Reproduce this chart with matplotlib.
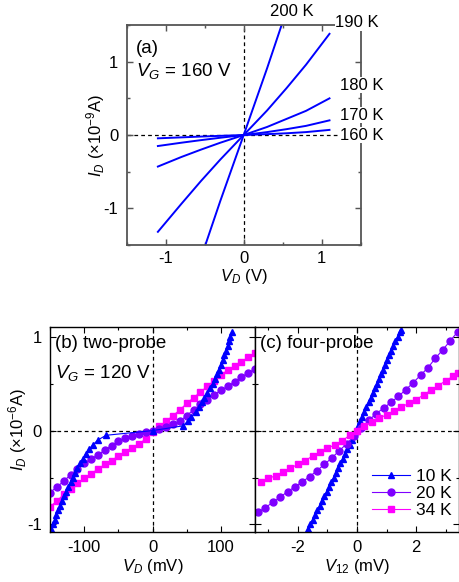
import numpy as np
import matplotlib
matplotlib.use("Agg")
import matplotlib.pyplot as plt
from matplotlib.ticker import MultipleLocator

plt.rcParams['font.family'] = ['Liberation Sans', 'DejaVu Sans']
plt.rcParams['mathtext.fontset'] = 'custom'
plt.rcParams['mathtext.rm'] = 'Liberation Sans'
plt.rcParams['mathtext.it'] = 'Liberation Sans:italic'
plt.rcParams['axes.unicode_minus'] = False
plt.rcParams['font.size'] = 12

# ---- panel (a): I-V at V_G = 160 V, several temperatures (x 1e-9 A)
va_temps = ["160 K", "170 K", "180 K", "190 K", "200 K"]
va_v = [-1.1, -0.8, -0.55, -0.3, 0.0, 0.3, 0.55, 0.8, 1.1]
ia_160 = [-0.045, -0.032, -0.021, -0.011, 0.0, 0.012, 0.024, 0.040, 0.07]
ia_170 = [-0.15, -0.105, -0.07, -0.037, 0.0, 0.04, 0.08, 0.125, 0.20]
ia_180 = [-0.43, -0.30, -0.20, -0.105, 0.0, 0.11, 0.22, 0.33, 0.50]
ia_190 = [-1.32, -0.94, -0.63, -0.335, 0.0, 0.335, 0.64, 0.96, 1.38]
va_200 = [-0.6, -0.3, 0.0, 0.3, 0.6]
ia_200 = [-1.84, -0.90, 0.0, 0.91, 1.86]

# ---- panel (b): two-probe, V_G = 120 V (x 1e-6 A)
vb_10k = [-148, -146, -143, -141, -138, -135, -132, -129, -126, -123, -120,
          -117, -114, -110, -106, -102, -98, -93, -87, -80, -68, 0,
          44, 52, 57, 63, 68, 72, 76, 80, 84, 88, 91, 94, 97, 100, 103,
          105, 108, 110, 112, 114, 116]
ib_10k = [-1.05, -1.0, -0.95, -0.9, -0.85, -0.8, -0.75, -0.7, -0.65, -0.6,
          -0.55, -0.5, -0.45, -0.4, -0.35, -0.3, -0.25, -0.2, -0.15, -0.1,
          -0.05, 0.0, 0.05, 0.1, 0.15, 0.2, 0.25, 0.3, 0.35, 0.4, 0.45, 0.5,
          0.55, 0.6, 0.65, 0.7, 0.75, 0.8, 0.85, 0.9, 0.95, 1.0, 1.05]
vb_sweep = [-150, -140, -130, -120, -110, -100, -90, -80, -70, -60, -50, -40,
            -30, -20, -10, 0, 10, 20, 30, 40, 50, 60, 70, 80, 90, 100, 110,
            120, 130, 140, 150]
ib_20k = [-0.66, -0.60, -0.54, -0.47, -0.41, -0.35, -0.30, -0.26, -0.21,
          -0.16, -0.11, -0.08, -0.055, -0.035, -0.017, 0.0, 0.02, 0.04,
          0.065, 0.10, 0.16, 0.22, 0.28, 0.33, 0.38, 0.43, 0.47, 0.52, 0.57,
          0.615, 0.656]
ib_34k = [-0.81, -0.75, -0.68, -0.62, -0.56, -0.51, -0.46, -0.41, -0.36,
          -0.32, -0.27, -0.23, -0.18, -0.14, -0.09, -0.01, 0.05, 0.10, 0.16,
          0.22, 0.29, 0.35, 0.41, 0.47, 0.53, 0.59, 0.645, 0.69, 0.735, 0.78,
          0.83]

# ---- panel (c): four-probe (x 1e-6 A)
ic_10k = [-1.05, -1.0, -0.95, -0.9, -0.85, -0.8, -0.75, -0.7, -0.65, -0.6,
          -0.55, -0.5, -0.45, -0.4, -0.35, -0.3, -0.25, -0.2, -0.15, -0.1,
          -0.05, 0.0, 0.05, 0.1, 0.15, 0.2, 0.25, 0.3, 0.35, 0.4, 0.45, 0.5,
          0.55, 0.6, 0.65, 0.7, 0.75, 0.8, 0.85, 0.9, 0.95, 1.0, 1.05, 1.07]
vc_10k = [-1.66, -1.58, -1.50, -1.42, -1.34, -1.26, -1.18, -1.10, -1.02,
          -0.94, -0.87, -0.79, -0.71, -0.63, -0.56, -0.48, -0.40, -0.33,
          -0.25, -0.18, -0.11, -0.03, 0.04, 0.11, 0.18, 0.25, 0.32, 0.39,
          0.46, 0.53, 0.60, 0.67, 0.74, 0.81, 0.88, 0.95, 1.02, 1.09, 1.16,
          1.23, 1.30, 1.38, 1.45, 1.50]
vc_20k = [-3.35, -3.1, -2.85, -2.6, -2.35, -2.1, -1.85, -1.6, -1.35, -1.1,
          -0.85, -0.6, -0.35, -0.1, 0.15, 0.4, 0.65, 0.9, 1.15, 1.4, 1.65,
          1.9, 2.15, 2.4, 2.65, 2.9, 3.15, 3.4]
ic_20k = [-0.87, -0.82, -0.765, -0.71, -0.65, -0.60, -0.545, -0.49, -0.425,
          -0.36, -0.29, -0.215, -0.14, -0.06, 0.03, 0.11, 0.18, 0.24, 0.30,
          0.365, 0.435, 0.51, 0.59, 0.67, 0.77, 0.86, 0.955, 1.05]
vc_34k = [-3.25, -3.0, -2.75, -2.5, -2.25, -2.0, -1.75, -1.5, -1.25, -1.0,
          -0.75, -0.5, -0.25, 0.0, 0.25, 0.5, 0.75, 1.0, 1.25, 1.5, 1.75, 2.0,
          2.25, 2.5, 2.75, 3.0, 3.25, 3.4]
ic_34k = [-0.55, -0.51, -0.48, -0.44, -0.40, -0.36, -0.32, -0.27, -0.23,
          -0.19, -0.15, -0.11, -0.05, 0.0, 0.05, 0.09, 0.13, 0.17, 0.21, 0.25,
          0.29, 0.33, 0.38, 0.43, 0.48, 0.53, 0.58, 0.61]

legend_labels = ["10 K", "20 K", "34 K"]
c10, c20, c34 = "#0000ff", "#7f00ff", "#ff00ff"
blue = "#0000ff"


def style_ticks(ax, spine_color, lw):
    ax.tick_params(which='both', direction='in', top=True, right=True,
                   color=spine_color, width=lw * 0.8)
    ax.tick_params(which='major', length=4, pad=6)
    ax.tick_params(which='minor', length=2.5)
    for s in ax.spines.values():
        s.set_color(spine_color)
        s.set_linewidth(lw)


def zero_lines(ax):
    ax.axhline(0, color='black', ls=(0, (3, 2.5)), lw=0.9, zorder=1)
    ax.axvline(0, color='black', ls=(0, (3, 2.5)), lw=0.9, zorder=1)


fig = plt.figure(figsize=(4.6, 5.82), dpi=100)

# ---------------- (a)
axa = fig.add_axes([0.2754, 0.579, 0.5087, 0.378])
zero_lines(axa)
for curve in [ia_160, ia_170, ia_180, ia_190]:
    axa.plot(va_v, curve, color=blue, lw=1.4)
axa.plot(va_200, ia_200, color=blue, lw=1.4)
axa.set_xlim(-1.5, 1.5)
axa.set_ylim(-1.5, 1.5)
axa.xaxis.set_major_locator(MultipleLocator(1))
axa.xaxis.set_minor_locator(MultipleLocator(0.5))
axa.yaxis.set_major_locator(MultipleLocator(1))
axa.yaxis.set_minor_locator(MultipleLocator(0.5))
style_ticks(axa, '#555555', 1.3)
axa.tick_params(axis='x', which='major', pad=4)
axa.set_xlabel(r'$V_D$ (V)')
axa.xaxis.set_label_coords(0.5, -0.1)
axa.set_ylabel(r'$I_D$ (×10$^{-9}$A)')
axa.yaxis.set_label_coords(-0.085, 0.5)
axa.text(0.04, 0.895, '(a)', transform=axa.transAxes, va='center',
         fontsize=13.5)
axa.text(0.04, 0.79, r'$V_G$ = 160 V', transform=axa.transAxes, va='center',
         fontsize=13.5)

box = dict(facecolor='white', edgecolor='none', pad=0.5)
axa.text(0.62, 1.69, va_temps[4], ha='center', va='center', clip_on=False)
axa.text(1.175, 1.53, va_temps[3], ha='left', va='center', clip_on=False,
         bbox=box)
axa.text(1.23, 0.68, va_temps[2], ha='left', va='center', clip_on=False,
         bbox=box)
axa.text(1.23, 0.27, va_temps[1], ha='left', va='center', clip_on=False,
         bbox=box)
axa.text(1.23, 0.0, va_temps[0], ha='left', va='center', clip_on=False,
         bbox=box)

# ---------------- (b)
axb = fig.add_axes([0.1087, 0.0859, 0.4457, 0.3517])
zero_lines(axb)
axb.plot(vb_sweep, ib_34k, color=c34, marker='s', ms=5, lw=0.8)
axb.plot(vb_sweep, ib_20k, color=c20, marker='o', ms=5, lw=0.8)
axb.plot(vb_10k, ib_10k, color=c10, marker='^', ms=5, lw=0.8)
axb.set_xlim(-150, 150)
axb.set_ylim(-1.08, 1.1)
axb.xaxis.set_major_locator(MultipleLocator(100))
axb.xaxis.set_minor_locator(MultipleLocator(50))
axb.yaxis.set_major_locator(MultipleLocator(1))
axb.yaxis.set_minor_locator(MultipleLocator(0.5))
style_ticks(axb, 'black', 1.0)
axb.set_xlabel(r'$V_D$ (mV)')
axb.xaxis.set_label_coords(0.5, -0.12)
axb.set_ylabel(r'$I_D$ (×10$^{-6}$A)')
axb.yaxis.set_label_coords(-0.10, 0.5)
axb.text(0.025, 0.923, '(b) two-probe', transform=axb.transAxes,
         va='center', fontsize=13.5)
axb.text(0.025, 0.777, r'$V_G$ = 120 V', transform=axb.transAxes,
         va='center', fontsize=13.5)

# ---------------- (c)
axc = fig.add_axes([0.5543, 0.0859, 0.4435, 0.3517], sharey=axb)
zero_lines(axc)
axc.plot(vc_10k, ic_10k, color=c10, marker='^', ms=5, lw=0.8,
         label=legend_labels[0])
axc.plot(vc_20k, ic_20k, color=c20, marker='o', ms=5, lw=0.8,
         label=legend_labels[1])
axc.plot(vc_34k, ic_34k, color=c34, marker='s', ms=5, lw=0.8,
         label=legend_labels[2])
axc.set_xlim(-3.45, 3.45)
axc.xaxis.set_major_locator(MultipleLocator(2))
axc.xaxis.set_minor_locator(MultipleLocator(1))
style_ticks(axc, 'black', 1.0)
axc.tick_params(labelleft=False)
axc.set_xlabel(r'$V_{\mathit{12}}$ (mV)')
axc.xaxis.set_label_coords(0.5, -0.12)
axc.text(0.025, 0.923, '(c) four-probe', transform=axc.transAxes,
         va='center', fontsize=13.5)
axc.legend(loc='upper left', bbox_to_anchor=(0.53, 0.35), frameon=False,
           borderpad=0, labelspacing=0.1, handlelength=2.2,
           handletextpad=0.35, markerscale=1.0, numpoints=1,
           fontsize=12.5)

fig.savefig("out.png", dpi=100)
